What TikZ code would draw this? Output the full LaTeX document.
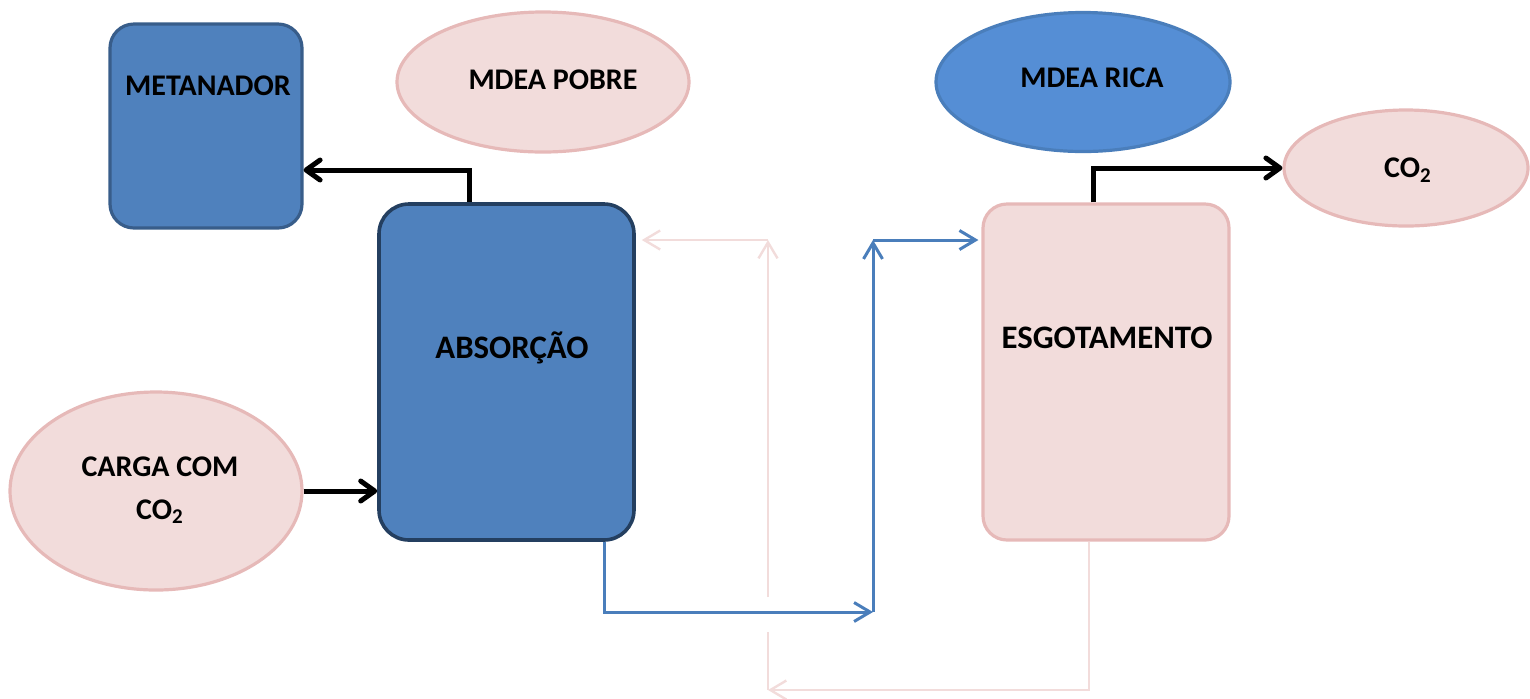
\documentclass[tikz,border=0pt]{standalone}
\usepackage{fontspec}
\setmainfont{Carlito}
\usetikzlibrary{shapes.geometric,arrows.meta}
\definecolor{boxblue}{HTML}{4F81BD}
\definecolor{metaedge}{HTML}{385D8A}
\definecolor{absedge}{HTML}{243F60}
\definecolor{richfill}{HTML}{558ED5}
\definecolor{richedge}{HTML}{4A7EBB}
\definecolor{pinkfill}{HTML}{F2DCDB}
\definecolor{pinkedge}{HTML}{E6B9B8}
\definecolor{flowblue}{HTML}{4A7EBB}
\definecolor{flowpink}{HTML}{F2DCDB}
\tikzset{
  bluebox/.style={rectangle, fill=boxblue, line width=1.6pt, inner sep=0pt},
  pinkbox/.style={rectangle, fill=pinkfill, draw=pinkedge, line width=1.6pt, inner sep=0pt},
  pinkoval/.style={ellipse, fill=pinkfill, draw=pinkedge, line width=1.6pt, inner sep=0pt},
  blueoval/.style={ellipse, fill=richfill, draw=richedge, line width=1.6pt, inner sep=0pt},
  lbl/.style={font=\bfseries\fontsize{15}{21.5}\selectfont, align=center, inner sep=0pt},
  biglbl/.style={lbl, font=\bfseries\fontsize{16.4}{20}\selectfont},
  blk/.style={line width=2.5pt, draw=black, -{Straight Barb[length=7pt,width=10pt,line cap=round,line join=round]}},
  bflow/.style={line width=1.5pt, draw=flowblue, -{Straight Barb[length=8pt,width=9.5pt]}},
  pflow/.style={line width=1.2pt, draw=flowpink},
  pflowtip/.style={pflow, -{Straight Barb[length=8pt,width=9.5pt]}}
}
\begin{document}
\begin{tikzpicture}[x=0.5pt,y=-0.5pt]
\useasboundingbox (0,0) rectangle (1530,698);

% units and columns
\node[bluebox, draw=metaedge, rounded corners=12pt, minimum width=96pt, minimum height=102pt] (meta) at (206,126) {};
\node[lbl] (metatxt) at (208,86) {METANADOR};

\node[pinkoval, minimum width=146pt, minimum height=70pt] (pobre) at (543,82) {};
\node[lbl] (pobretxt) at (553,80) {MDEA POBRE};

\node[bluebox, draw=absedge, line width=1.8pt, rounded corners=15pt, minimum width=127.5pt, minimum height=168pt] (absorb) at (506.5,372) {};
\node[biglbl] (absorbtxt) at (512,348) {ABSORÇÃO};

\node[pinkoval, minimum width=146pt, minimum height=99pt] (carga) at (156,491) {};
\node[lbl] (cargatxt) at (160,490) {CARGA COM\\CO\textsubscript{2}};

\node[blueoval, minimum width=147pt, minimum height=69.5pt] (rica) at (1083,82) {};
\node[lbl] (ricatxt) at (1092,78) {MDEA RICA};

\node[pinkoval, minimum width=122pt, minimum height=58pt] (co2) at (1406,168) {};
\node[lbl] (co2txt) at (1408,170) {CO\textsubscript{2}};

\node[pinkbox, rounded corners=12pt, minimum width=123pt, minimum height=168pt] (esg) at (1106,372) {};
\node[biglbl] (esgtxt) at (1107,338) {ESGOTAMENTO};

% main gas streams
\draw[blk] ([xshift=-18.75pt]absorb.north) |- ([yshift=-22pt]meta.east);
\draw[blk] (carga.east) -- (carga.east -| absorb.west);
\draw[blk] ([xshift=-6.5pt]esg.north) |- (co2.west);

% rich amine to the stripper
\coordinate (b1) at (873,612);
\coordinate (b2) at (873,240);
\draw[bflow] ([xshift=49pt]absorb.south) |- (b1);
\draw[bflow] (b1) -- (b2);
\draw[bflow] (b2) -- ([xshift=-1.5pt]b2 -| esg.west);

% lean amine back to the absorber
\coordinate (p1) at (768,690);
\coordinate (p2) at (768,632);
\coordinate (p3) at (768,597);
\coordinate (p4) at (768,240);
\draw[pflowtip] ([xshift=-8.5pt]esg.south) |- (p1);
\draw[pflow] (p1) -- (p2);
\draw[pflowtip] (p3) -- (p4);
\draw[pflowtip] (p4) -- ([xshift=3pt]p4 -| absorb.east);
\end{tikzpicture}
\end{document}
